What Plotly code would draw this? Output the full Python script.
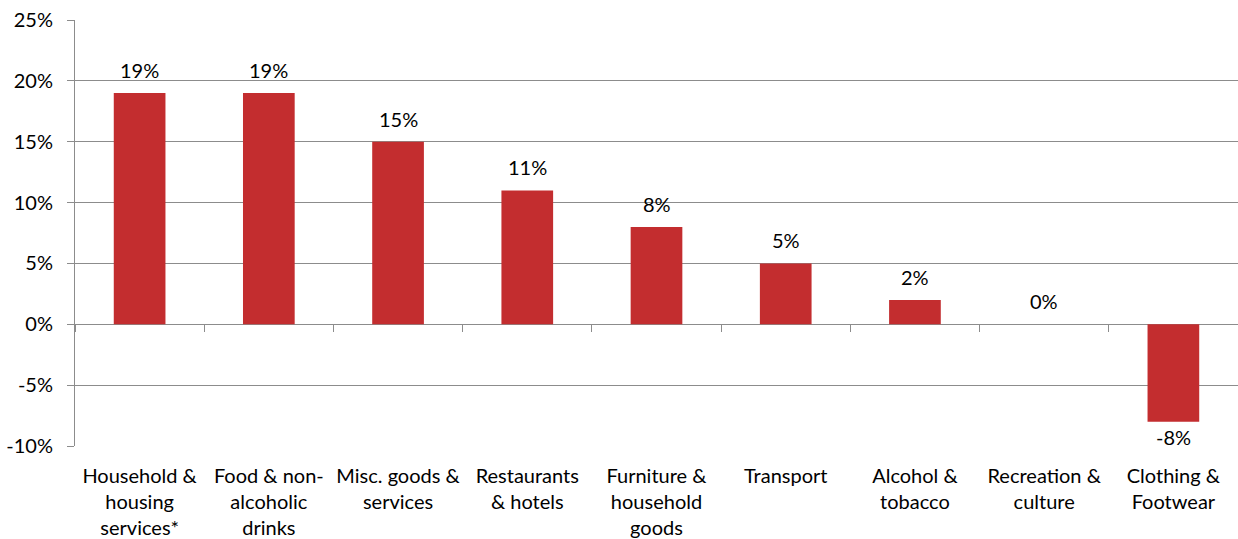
import plotly.graph_objects as go

categories = [
    "Household &<br>housing<br>services*",
    "Food & non-<br>alcoholic<br>drinks",
    "Misc. goods &<br>services",
    "Restaurants<br>& hotels",
    "Furniture &<br>household<br>goods",
    "Transport",
    "Alcohol &<br>tobacco",
    "Recreation &<br>culture",
    "Clothing &<br>Footwear",
]
values = [19, 19, 15, 11, 8, 5, 2, 0, -8]
y_ticks = [-10, -5, 0, 5, 10, 15, 20, 25]

FONT = "Lato"
FS = 20
GRID = "#8c8c8c"
BAR = "#c32d2f"
y_min, y_max = -10, 25

fig = go.Figure()
fig.add_trace(go.Bar(
    x=categories,
    y=values,
    marker=dict(color=BAR, line=dict(width=0)),
    width=0.4,
    showlegend=False,
))
# Invisible trace on a second x-axis that carries the category tick marks on the zero line
fig.add_trace(go.Bar(
    x=categories, y=[None] * len(categories), xaxis="x2", showlegend=False,
    hoverinfo="skip",
))

# Value labels above positive bars, below negative ones
for c, v in zip(categories, values):
    fig.add_annotation(
        x=c, y=v, text=f"{v}%", showarrow=False,
        xanchor="center", yanchor="middle",
        yshift=23 if v >= 0 else -15,
        font=dict(family=FONT, size=FS, color="#000000"),
    )

fig.update_layout(
    width=1238, height=539,
    margin=dict(l=75, r=0, t=20, b=93),
    plot_bgcolor="white", paper_bgcolor="white",
    font=dict(family=FONT, size=FS, color="#000000"),
    xaxis=dict(
        type="category", showgrid=False, showline=False, ticks="",
        tickfont=dict(family=FONT, size=FS), zeroline=False,
        ticklabelstandoff=16,
    ),
    xaxis2=dict(
        type="category", overlaying="x", anchor="free",
        position=(0 - y_min) / (y_max - y_min),
        matches="x", showticklabels=False, showgrid=False, showline=False,
        ticks="outside", ticklen=7, tickcolor=GRID, tickwidth=1,
        tickson="boundaries",
    ),
    yaxis=dict(
        range=[y_min, y_max], tickvals=y_ticks,
        ticktext=[f"{t}%" for t in y_ticks],
        showgrid=True, gridcolor=GRID, gridwidth=1,
        zeroline=True, zerolinecolor=GRID, zerolinewidth=1,
        showline=True, linecolor=GRID, linewidth=1,
        ticks="outside", ticklen=7, tickcolor=GRID,
        tickfont=dict(family=FONT, size=FS),
        ticklabelstandoff=10,
    ),
)

fig.write_html("out.html")
